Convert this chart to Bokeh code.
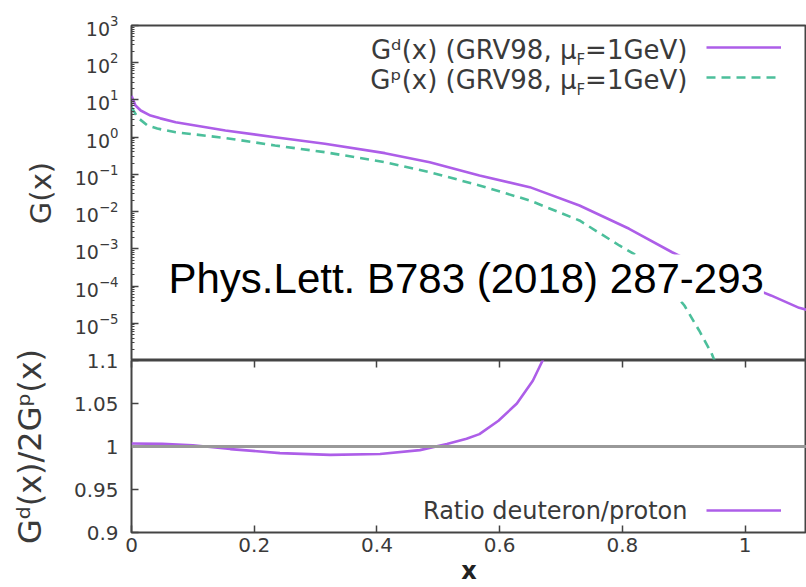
from bokeh.plotting import figure
from bokeh.models import (Range1d, FixedTicker, Label, Span, LinearAxis,
                          Legend, LegendItem, NumeralTickFormatter, CustomJSTickFormatter)
from bokeh.core.properties import value
from bokeh.layouts import column
from bokeh.embed import file_html
from bokeh.resources import INLINE

# ---------------- data ----------------
x_deut = [0.0, 0.0065, 0.015, 0.031, 0.047, 0.072, 0.153, 0.234, 0.315, 0.413,
          0.486, 0.567, 0.649, 0.730, 0.811, 0.881, 0.960, 1.042, 1.088, 1.100]
g_deut = [13.0, 7.1, 5.2, 3.8, 3.2, 2.53, 1.51, 1.0, 0.665, 0.372,
          0.213, 0.0935, 0.0454, 0.0146, 0.00346, 8.1e-4, 1.9e-4, 5.6e-5, 2.6e-5, 2.3e-5]

x_prot = [0.0, 0.0098, 0.026, 0.042, 0.072, 0.153, 0.234, 0.315, 0.413, 0.486,
          0.567, 0.649, 0.730, 0.795, 0.823, 0.862, 0.901, 0.925, 0.945, 0.950, 0.953]
g_prot = [6.4, 3.4, 2.05, 1.7, 1.36, 0.95, 0.598, 0.395, 0.213, 0.115,
          0.0504, 0.0199, 0.00579, 0.00123, 6.6e-4, 1.8e-4, 3.0e-5, 6.4e-6, 1.6e-6, 1.0e-6, 5e-7]

x_ratio = [0.0, 0.05, 0.10, 0.161, 0.242, 0.324, 0.405, 0.470, 0.514, 0.546,
           0.567, 0.598, 0.628, 0.654, 0.670, 0.680]
ratio = [1.0035, 1.003, 1.0015, 0.997, 0.9923, 0.9903, 0.9912, 0.9958, 1.0028, 1.009,
         1.0144, 1.030, 1.050, 1.0764, 1.100, 1.115]

log_ticks = [1e-5, 1e-4, 1e-3, 1e-2, 1e-1, 1e0, 1e1, 1e2, 1e3]
x_ticks = [0, 0.2, 0.4, 0.6, 0.8, 1.0]
ratio_ticks = [0.9, 0.95, 1.0, 1.05, 1.1]

legend_main = ["G\u1d48(x) (GRV98, \u03bc", "G\u1d56(x) (GRV98, \u03bc"]
legend_sub = "F"
legend_tail = "=1GeV)"
ratio_legend = "Ratio deuteron/proton"
annotation = "Phys.Lett. B783 (2018) 287-293"

# ---------------- styling ----------------
PURPLE = "#ad5ee8"
TEAL = "#4cbf9b"
FRAME = "#444444"
TXT = "#3a3a3a"
FONT = "DejaVu Sans"
W = 806
LEFT = 131
X_END = 1.1
PX_PER_X = (W - LEFT) / X_END
OVERLAP = 12


def xd(px):
    return (px - LEFT) / PX_PER_X


def yd_log(py):
    # top frame 25..360 px spans 1e3..1e-6
    return 10 ** (3 - (py - 25) / (335 / 9))


def yd_lin(py):
    # bottom frame 360..532 px spans 1.1..0.9
    return 1.1 - (py - 360) / 860.0


def style_axis(ax, size="19px"):
    ax.axis_line_color = None
    ax.major_tick_in = 7
    ax.major_tick_out = 0
    ax.minor_tick_in = 3
    ax.minor_tick_out = 0
    ax.major_tick_line_color = FRAME
    ax.major_tick_line_width = 1.5
    ax.minor_tick_line_color = FRAME
    ax.major_label_text_font = FONT
    ax.major_label_text_font_size = size
    ax.major_label_text_color = TXT
    ax.axis_label_text_font = FONT
    ax.axis_label_text_color = TXT
    ax.axis_label_text_font_style = "normal"


def make_legend(renderers, location, spacing):
    return Legend(items=[LegendItem(label=value(" "), renderers=[r]) for r in renderers],
                  location=location, glyph_width=75, glyph_height=8,
                  label_text_font_size="7px", label_width=7, label_height=1,
                  label_standoff=0, padding=0, spacing=spacing, margin=18,
                  background_fill_alpha=0, border_line_color=None)


def text_label(px, y, text, size, font=FONT, color=TXT, align="right"):
    return Label(x=xd(px), y=y, text=text, text_font=font, text_font_size=size,
                 text_color=color, text_align=align, text_baseline="middle")


# ---------------- top panel ----------------
p1 = figure(width=W, height=360, y_axis_type="log",
            x_range=Range1d(0, X_END), y_range=Range1d(1e-6, 1e3),
            x_axis_location=None, output_backend="svg", toolbar_location=None,
            min_border_left=LEFT, min_border_right=0, min_border_top=25,
            min_border_bottom=0)
p1.outline_line_color = FRAME
p1.outline_line_width = 2
p1.xgrid.visible = False
p1.ygrid.visible = False

minor_log = [m * 10.0 ** e for e in range(-6, 3) for m in range(2, 10)]
yax = p1.yaxis[0]
yax.ticker = FixedTicker(ticks=log_ticks, minor_ticks=minor_log)
style_axis(yax)
yax.major_label_standoff = 13
yax.axis_label = "G(x)"
yax.axis_label_text_font_size = "29px"
yax.axis_label_standoff = 14

r_d = p1.line(x_deut, g_deut, line_color=PURPLE, line_width=2.6)
r_p = p1.line(x_prot, g_prot, line_color=TEAL, line_width=2.6, line_dash="9 6")

p1.add_layout(make_legend([r_d, r_p], "top_right", 22))

tail_w = 8068 / 2048 * 26
sub_w = 1178 / 2048 * 15
for i, (mid_py, sub_py) in enumerate([(49, 59.5), (79, 89.5)]):
    right = 687
    p1.add_layout(text_label(right, yd_log(mid_py), legend_tail, "26px"))
    p1.add_layout(text_label(right - tail_w, yd_log(sub_py), legend_sub, "15px"))
    p1.add_layout(text_label(right - tail_w - sub_w, yd_log(mid_py), legend_main[i], "26px"))

ann = text_label(168, yd_log(277.5), annotation, "42px", font="Liberation Sans",
                 color="black", align="left")
ann.background_fill_color = "white"
p1.add_layout(ann)

# ---------------- bottom panel ----------------
p2 = figure(width=W, height=227 + OVERLAP, x_range=p1.x_range, y_range=Range1d(0.9, 1.1),
            output_backend="svg", toolbar_location=None,
            min_border_left=LEFT, min_border_right=0, min_border_top=OVERLAP,
            min_border_bottom=55)
p2.margin = (-OVERLAP, 0, 0, 0)
p2.border_fill_alpha = 0
p2.outline_line_color = FRAME
p2.outline_line_width = 2
p2.xgrid.visible = False
p2.ygrid.visible = False

fmt = NumeralTickFormatter(format="0.[00]")

xax = p2.xaxis[0]
xax.ticker = FixedTicker(ticks=x_ticks)
xax.formatter = fmt
style_axis(xax, "20px")
xax.minor_tick_line_color = None
xax.major_label_standoff = 5
xax.axis_label = "x"
xax.axis_label_text_font_size = "24px"
xax.axis_label_text_font_style = "bold"
xax.axis_label_text_color = "#222222"
xax.axis_label_standoff = 2

# mirror ticks along the top edge of the ratio panel (no labels)
tax = LinearAxis(ticker=FixedTicker(ticks=x_ticks),
                 formatter=CustomJSTickFormatter(code="return ' '"))
style_axis(tax, "1px")
tax.minor_tick_line_color = None
tax.major_label_standoff = 0
p2.add_layout(tax, "above")

y2 = p2.yaxis[0]
y2.ticker = FixedTicker(ticks=ratio_ticks)
y2.formatter = fmt
style_axis(y2, "20px")
y2.minor_tick_line_color = None
y2.major_label_standoff = 13
y2.axis_label = "G\u1d48(x)/2G\u1d56(x)"
y2.axis_label_text_font_size = "32px"
y2.axis_label_standoff = 22

p2.add_layout(Span(location=1.0, dimension="width", line_color="#999999", line_width=3))

r_r = p2.line(x_ratio, ratio, line_color=PURPLE, line_width=2.6)
p2.add_layout(make_legend([r_r], "bottom_right", 0))
p2.add_layout(text_label(687, yd_lin(510), ratio_legend, "24px"))

layout = column(p1, p2, spacing=0)
open("out.html", "w").write(file_html(layout, INLINE))
